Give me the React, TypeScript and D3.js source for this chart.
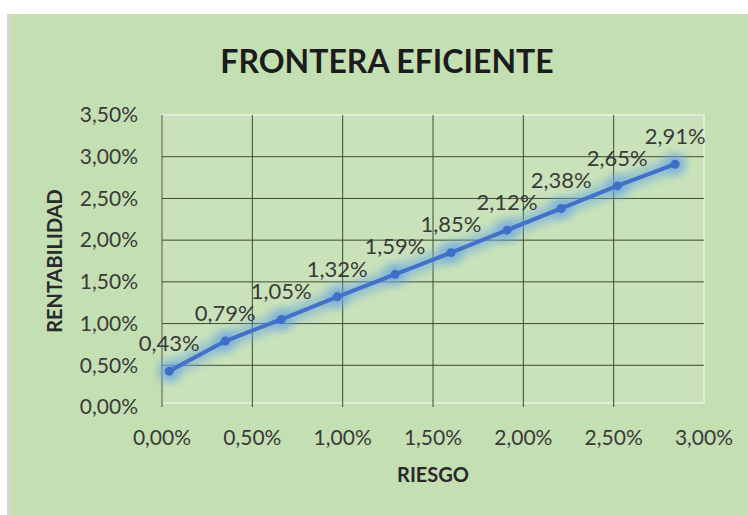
import React, { useEffect, useRef } from "react";
import * as d3 from "d3";

// risk (x) and return (y), in percent
const riesgo = [0.04, 0.35, 0.66, 0.97, 1.29, 1.6, 1.91, 2.21, 2.52, 2.84];
const rentabilidad = [0.43, 0.79, 1.05, 1.32, 1.59, 1.85, 2.12, 2.38, 2.65, 2.91];
const xTicks = [0, 0.5, 1, 1.5, 2, 2.5, 3];
const yTicks = [0, 0.5, 1, 1.5, 2, 2.5, 3, 3.5];

const fmt = (v: number) => v.toFixed(2).replace(".", ",") + "%";

const App = () => {
  const svgRef = useRef<SVGSVGElement | null>(null);

  useEffect(() => {
    const width = 748;
    const height = 515;
    const margin = { top: 115, right: 44, bottom: 108, left: 162 };
    const font = "Lato, 'Open Sans', sans-serif";

    const svg = d3.select(svgRef.current).attr("width", width).attr("height", height);
    svg.selectAll("*").remove();

    const data = riesgo.map((r, i) => ({ x: r, y: rentabilidad[i] }));

    const x = d3.scaleLinear().domain([0, 3]).range([margin.left, width - margin.right]);
    const y = d3.scaleLinear().domain([0, 3.5]).range([height - margin.bottom, margin.top]);

    // glow filter
    const defs = svg.append("defs");
    defs.append("filter")
      .attr("id", "glow")
      .attr("x", "-20%").attr("y", "-20%").attr("width", "140%").attr("height", "140%")
      .append("feGaussianBlur")
      .attr("stdDeviation", 5);

    // page + chart background
    svg.append("rect").attr("width", width).attr("height", height).attr("fill", "#ffffff");
    svg.append("rect")
      .attr("x", 7).attr("y", 14).attr("width", width - 7).attr("height", height - 14)
      .attr("fill", "#c4dfb2");
    svg.append("rect")
      .attr("x", 7).attr("y", 14).attr("width", 4).attr("height", height - 14)
      .attr("fill", "#d4d9d0");

    // plot area
    svg.append("rect")
      .attr("x", x(0)).attr("y", y(3.5))
      .attr("width", x(3) - x(0)).attr("height", y(0) - y(3.5) - 4)
      .attr("fill", "#c9e2b9")
      .attr("stroke", "#e2ecdc")
      .attr("stroke-width", 2);

    // gridlines
    svg.append("g")
      .selectAll("line")
      .data(yTicks.filter((t) => t > 0 && t < 3.5))
      .enter()
      .append("line")
      .attr("x1", x(0)).attr("x2", x(3))
      .attr("y1", (d) => y(d)).attr("y2", (d) => y(d))
      .attr("stroke", "#3c4a36").attr("stroke-width", 1);

    svg.append("g")
      .selectAll("line")
      .data(xTicks.filter((t) => t < 3))
      .enter()
      .append("line")
      .attr("x1", (d) => x(d)).attr("x2", (d) => x(d))
      .attr("y1", y(3.5)).attr("y2", y(0))
      .attr("stroke", "#3c4a36").attr("stroke-width", 1);

    // axis labels
    svg.append("g")
      .selectAll("text")
      .data(yTicks)
      .enter()
      .append("text")
      .attr("x", x(0) - 24)
      .attr("y", (d) => y(d))
      .attr("dy", "0.35em")
      .attr("text-anchor", "end")
      .attr("font-family", font)
      .attr("font-size", 21)
      .attr("fill", "#3a3a3a")
      .text(fmt);

    svg.append("g")
      .selectAll("text")
      .data(xTicks)
      .enter()
      .append("text")
      .attr("x", (d) => x(d))
      .attr("y", 438)
      .attr("dy", "0.35em")
      .attr("text-anchor", "middle")
      .attr("font-family", font)
      .attr("font-size", 21)
      .attr("fill", "#3a3a3a")
      .text(fmt);

    // titles
    svg.append("text")
      .attr("x", 387).attr("y", 62).attr("dy", "0.35em")
      .attr("text-anchor", "middle")
      .attr("font-family", font)
      .attr("font-weight", "bold")
      .attr("font-size", 32)
      .attr("fill", "#1c1c1c")
      .text("FRONTERA EFICIENTE");

    svg.append("text")
      .attr("x", (x(0) + x(3)) / 2).attr("y", 475).attr("dy", "0.35em")
      .attr("text-anchor", "middle")
      .attr("font-family", font)
      .attr("font-weight", "bold")
      .attr("font-size", 20)
      .attr("fill", "#2a2a2a")
      .text("RIESGO");

    svg.append("text")
      .attr("transform", `translate(55,${(y(0) + y(3.5)) / 2}) rotate(-90)`)
      .attr("dy", "0.35em")
      .attr("text-anchor", "middle")
      .attr("font-family", font)
      .attr("font-weight", "bold")
      .attr("font-size", 20)
      .attr("fill", "#2a2a2a")
      .text("RENTABILIDAD");

    const line = d3.line<{ x: number; y: number }>()
      .x((d) => x(d.x))
      .y((d) => y(d.y));

    // glow
    svg.append("path")
      .datum(data)
      .attr("d", line)
      .attr("fill", "none")
      .attr("stroke", "#6aa6e2")
      .attr("stroke-width", 15)
      .attr("stroke-linecap", "round")
      .attr("opacity", 0.6)
      .attr("filter", "url(#glow)");
    svg.append("g")
      .selectAll("circle")
      .data(data)
      .enter()
      .append("circle")
      .attr("cx", (d) => x(d.x)).attr("cy", (d) => y(d.y))
      .attr("r", 11)
      .attr("fill", "#6aa6e2")
      .attr("opacity", 0.6)
      .attr("filter", "url(#glow)");

    // series line
    svg.append("path")
      .datum(data)
      .attr("d", line)
      .attr("fill", "none")
      .attr("stroke", "#4272c8")
      .attr("stroke-width", 4);

    svg.append("g")
      .selectAll("circle")
      .data(data)
      .enter()
      .append("circle")
      .attr("cx", (d) => x(d.x)).attr("cy", (d) => y(d.y))
      .attr("r", 4.5)
      .attr("fill", "#3f6ec6");

    // data labels
    svg.append("g")
      .selectAll("text")
      .data(data)
      .enter()
      .append("text")
      .attr("x", (d) => x(d.x))
      .attr("y", (d) => y(d.y) - 28)
      .attr("dy", "0.35em")
      .attr("text-anchor", "middle")
      .attr("font-family", font)
      .attr("font-size", 22)
      .attr("fill", "#3a3a3a")
      .text((d) => fmt(d.y));
  }, []);

  return <svg ref={svgRef} style={{ position: "absolute", left: 0, top: 0 }}></svg>;
};

export default App;
